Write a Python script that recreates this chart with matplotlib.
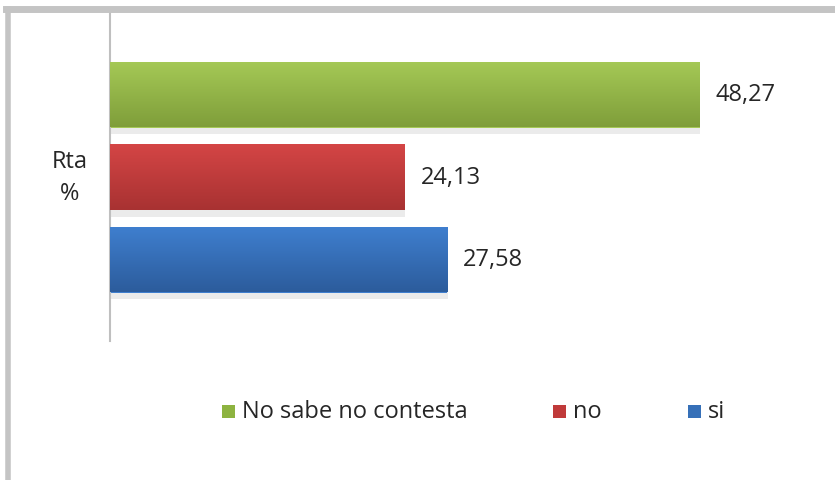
import matplotlib
matplotlib.use("Agg")
import matplotlib.pyplot as plt
import numpy as np
from matplotlib.lines import Line2D
from matplotlib.patches import Rectangle

plt.rcParams['font.family'] = ['Open Sans', 'DejaVu Sans']

series = ["No sabe no contesta", "no", "si"]
values = [48.27, 24.13, 27.58]
labels = ["48,27", "24,13", "27,58"]
category = "Rta\n%"
top_colors = ["#a5c956", "#d44545", "#3f7fcf"]
bot_colors = ["#7f9e3a", "#a83232", "#2c5c9c"]
legend_colors = ["#8db340", "#c03a3a", "#3670b8"]

W, H = 835, 481
fig = plt.figure(figsize=(W / 100, H / 100), dpi=100)
fig.patch.set_facecolor("white")

# chart frame (top and left visible)
fig.add_artist(Line2D([8 / W, 8 / W], [0, 1 - 10 / H], transform=fig.transFigure, color="#c4c4c4", lw=4))
fig.add_artist(Line2D([6 / W, 1], [1 - 10 / H, 1 - 10 / H], transform=fig.transFigure, color="#c4c4c4", lw=5))

left, right, top, bottom = 110, 835, 14, 342
ax = fig.add_axes([left / W, 1 - bottom / H, (right - left) / W, (bottom - top) / H])
px_per_unit = 12.22
ax.set_xlim(0, (right - left) / px_per_unit)
span = (bottom - top) / 82.5
ax.set_ylim(-span / 2, span / 2)
for s in ["top", "right", "bottom"]:
    ax.spines[s].set_visible(False)
ax.spines["left"].set_color("#bfbfbf")
ax.spines["left"].set_linewidth(1.5)
ax.set_xticks([])
ax.set_yticks([])

ypos = [1, 0, -1]
h = 0.8
for y, v, lab, ct, cb in zip(ypos, values, labels, top_colors, bot_colors):
    # shadow
    ax.add_patch(Rectangle((0.05, y - h / 2 - 0.08), v, 0.1, facecolor="#000000", alpha=0.08, lw=0, zorder=1))
    bar = ax.barh(y, v, height=h, color=ct, zorder=2)[0]
    c1 = np.array(matplotlib.colors.to_rgb(ct))
    c2 = np.array(matplotlib.colors.to_rgb(cb))
    t = np.linspace(0, 1, 64)[:, None]
    grad = (c1[None, :] * (1 - t) + c2[None, :] * t)[:, None, :]
    im = ax.imshow(grad, extent=(0, v, y - h / 2, y + h / 2), aspect="auto", zorder=3, origin="upper")
    im.set_clip_path(bar)
    ax.text(v + 1.3, y, lab, va="center", ha="left", fontsize=17, color="#262626", zorder=4)

fig.text(70 / W, 1 - 178 / H, category, ha="center", va="center", fontsize=17, color="#262626", linespacing=1.5)

# legend
leg_items = [(222, series[0], legend_colors[0]), (553, series[1], legend_colors[1]), (688, series[2], legend_colors[2])]
for x0, name, col in leg_items:
    fig.add_artist(Rectangle((x0 / W, 1 - 419 / H), 13 / W, 13 / H, transform=fig.transFigure, facecolor=col, lw=0))
    fig.text((x0 + 20) / W, 1 - 412 / H, name, ha="left", va="center", fontsize=17, color="#262626")

fig.savefig("out.png", dpi=100, facecolor="white")
